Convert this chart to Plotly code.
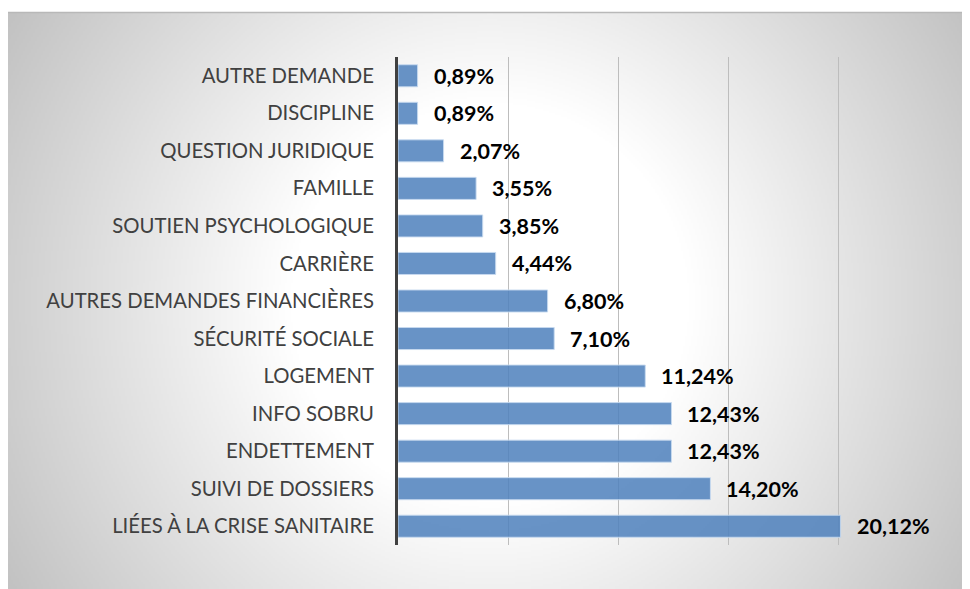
import base64, struct, zlib
import numpy as np
import plotly.graph_objects as go

categories = ["AUTRE DEMANDE", "DISCIPLINE", "QUESTION JURIDIQUE", "FAMILLE",
              "SOUTIEN PSYCHOLOGIQUE", "CARRIÈRE", "AUTRES DEMANDES FINANCIÈRES",
              "SÉCURITÉ SOCIALE", "LOGEMENT", "INFO SOBRU", "ENDETTEMENT",
              "SUIVI DE DOSSIERS", "LIÉES À LA CRISE SANITAIRE"]
values = [0.89, 0.89, 2.07, 3.55, 3.85, 4.44, 6.80, 7.10, 11.24, 12.43, 12.43, 14.20, 20.12]
x_ticks = [0, 5, 10, 15, 20, 25]

# page body adds an 8px margin; figure coordinates are screen - 8
W, H = 962, 581
L, R, T, B = 390, W - 940, 49, H - 537
PW, PH = W - L - R, H - T - B

def make_png(arr):
    h, w, _ = arr.shape
    raw = b"".join(b"\x00" + arr[i].tobytes() for i in range(h))
    def chunk(tag, data):
        c = struct.pack(">I", len(data)) + tag + data
        return c + struct.pack(">I", zlib.crc32(tag + data) & 0xffffffff)
    return (b"\x89PNG\r\n\x1a\n" + chunk(b"IHDR", struct.pack(">IIBBBBB", w, h, 8, 2, 0, 0, 0))
            + chunk(b"IDAT", zlib.compress(raw, 9)) + chunk(b"IEND", b""))

# chart-area radial gradient background
bx0, by0, bx1, by1 = 0, 4, 962, 581
s = 2
gw, gh = (bx1 - bx0) // s, (by1 - by0) // s
yy, xx = np.mgrid[0:gh, 0:gw].astype(float)
px = bx0 + xx * s
py = by0 + yy * s
cx, cy = (bx0 + bx1) / 2, (by0 + by1) / 2
d = np.sqrt((px - cx) ** 2 + (py - cy) ** 2)
r0, r1 = 200, 560
t = np.clip((d - r0) / (r1 - r0), 0, 1)
v = (255 - (255 - 194) * t).astype(np.uint8)
img = np.stack([v, v, v], axis=-1)
src = "data:image/png;base64," + base64.b64encode(make_png(img)).decode()

fig = go.Figure()
fig.add_trace(go.Bar(
    x=values, y=categories, orientation="h",
    marker=dict(color="rgba(79,129,189,0.86)", line=dict(color="rgba(200,218,240,0.9)", width=1)),
    hoverinfo="skip",
))

for c, v_ in zip(categories, values):
    fig.add_annotation(x=v_, y=c, text=f"{v_:.2f}".replace(".", ",") + "%",
                       showarrow=False, xanchor="left", xshift=14,
                       font=dict(family="Lato", size=21.5, color="#000000", weight="bold"))

fig.add_layout_image(dict(
    source=src, xref="paper", yref="paper",
    x=(bx0 - L) / PW, y=(H - B - by0) / PH,
    sizex=(bx1 - bx0) / PW, sizey=(by1 - by0) / PH,
    xanchor="left", yanchor="top", sizing="stretch", layer="below",
))
fig.add_shape(type="line", xref="paper", yref="paper",
              x0=(bx0 - L) / PW, x1=(bx1 - L) / PW,
              y0=(H - B - by0 - 0.5) / PH, y1=(H - B - by0 - 0.5) / PH,
              line=dict(color="#B8B8B8", width=1.5))

fig.update_layout(
    width=W, height=H,
    margin=dict(l=L, r=R, t=T, b=B),
    paper_bgcolor="white", plot_bgcolor="rgba(0,0,0,0)",
    bargap=0.413, showlegend=False,
    font=dict(family="Lato", size=20, color="#404040"),
)
fig.update_xaxes(range=[0, 25], tickvals=x_ticks, showticklabels=False,
                 showgrid=True, gridcolor="#BDBDBD", gridwidth=1,
                 zeroline=False, showline=False, ticks="")
fig.update_yaxes(autorange="reversed", showline=True, linecolor="#404040", linewidth=3,
                 showgrid=False, ticks="", ticklabelstandoff=17,
                 tickfont=dict(family="Lato", size=20.3, color="#404040"))

fig.write_html("out.html")
